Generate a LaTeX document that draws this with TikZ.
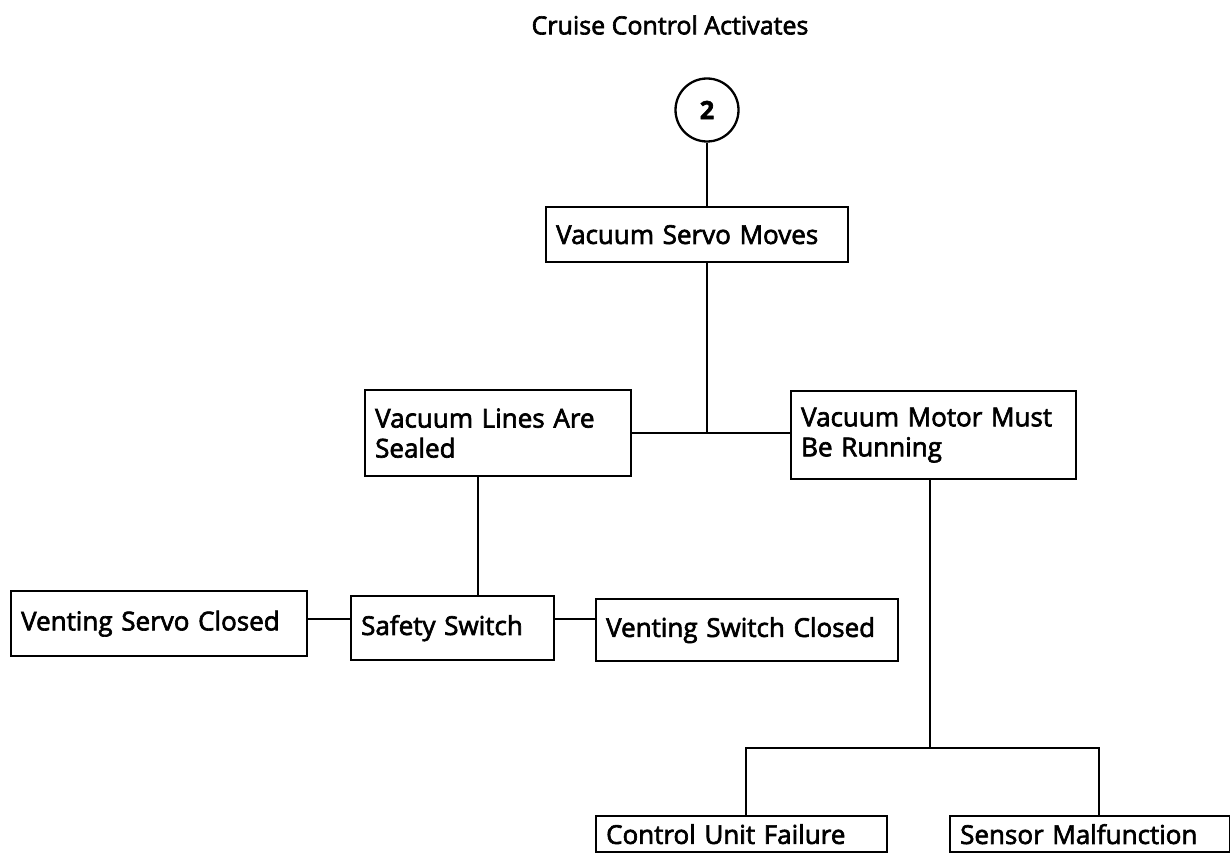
\documentclass[tikz,border=0pt]{standalone}
\usepackage{fontspec}
\setmainfont{Open Sans}[FakeBold=2.5]
\begin{document}
\begin{tikzpicture}[x=1pt,y=-1pt,
  box/.style={draw,line width=2.3pt,anchor=north west,inner xsep=10pt,inner ysep=0pt,
    font=\fontsize{26}{30}\selectfont,align=left},
  conn/.style={line width=2.3pt}]
\useasboundingbox (0,0) rectangle (1230,853);
\node[font=\fontsize{25}{30}\selectfont,inner sep=0pt] (title) at (670,25) {Cruise Control Activates};
\node[draw,circle,line width=2.3pt,minimum size=63pt,inner sep=0pt,font=\fontsize{25}{30}\selectfont\bfseries] (c2) at (707,110) {2};
\node[box,text width=282pt,minimum height=55pt] (servo) at (545,206) {Vacuum Servo Moves};
\node[box,text width=246pt,minimum height=86pt] (lines) at (364,389) {Vacuum Lines Are\\Sealed};
\node[box,text width=265pt,minimum height=88pt] (motor) at (790,390) {Vacuum Motor Must\\Be Running};
\node[box,text width=276pt,minimum height=65pt] (vservo) at (10,590) {Venting Servo Closed};
\node[box,text width=183pt,minimum height=64pt] (safety) at (350,595) {Safety Switch};
\node[box,text width=282pt,minimum height=62pt] (vswitch) at (595,598) {Venting Switch Closed};
\node[box,text width=271pt,minimum height=36pt] (control) at (595,815) {Control Unit Failure};
\node[box,text width=260pt,minimum height=36pt] (sensor) at (949,815) {Sensor Malfunction};
\coordinate (cx) at (707,0);
\coordinate (j1) at (478,0);
\coordinate (j2) at (746,748);
\coordinate (j3) at (1099,748);
\coordinate (jm) at (930,748);
\coordinate (hs) at (0,619);
\draw[conn] (c2.south) -- (servo.north -| c2.south);
\draw[conn] (servo.south -| cx) -- (lines.east -| cx);
\draw[conn] (lines.east) -- (lines.east -| motor.west);
\draw[conn] (lines.south -| j1) -- (safety.north -| j1);
\draw[conn] (vservo.east |- hs) -- (safety.west |- hs);
\draw[conn] (safety.east |- hs) -- (vswitch.west |- hs);
\draw[conn] (motor.south -| jm) -- (jm);
\draw[conn] (control.north -| j2) -- (j2) -- (j3) -- (sensor.north -| j3);
\end{tikzpicture}
\end{document}
